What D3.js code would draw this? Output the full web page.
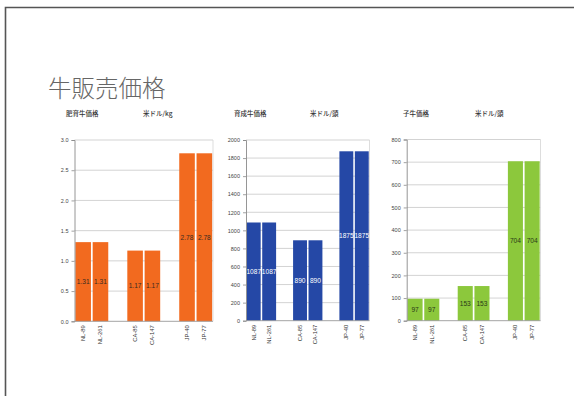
<!DOCTYPE html>
<html>
<head>
<meta charset="utf-8">
<script src="https://cdn.jsdelivr.net/npm/d3@7"></script>
<style>
  html, body { margin: 0; padding: 0; background: #fff; }
  svg { display: block; }
</style>
</head>
<body>
<svg id="chart" width="574" height="396"></svg>
<script>
// Cattle sale prices by farm (three panels)
const categories = ["NL-89", "NL-261", "CA-85", "CA-147", "JP-40", "JP-77"];
const fattenedPrice = [1.31, 1.31, 1.17, 1.17, 2.78, 2.78];     // 米ドル/kg
const growingPrice = [1087, 1087, 890, 890, 1875, 1875];        // 米ドル/頭
const calfPrice = [97, 97, 153, 153, 704, 704];                 // 米ドル/頭

const panelTitles = ["肥育牛価格", "育成牛価格", "子牛価格"];
const panelUnits = ["米ドル/kg", "米ドル/頭", "米ドル/頭"];
const fattenedTicks = [0, 0.5, 1.0, 1.5, 2.0, 2.5, 3.0];
const growingTicks = [0, 200, 400, 600, 800, 1000, 1200, 1400, 1600, 1800, 2000];
const calfTicks = [0, 100, 200, 300, 400, 500, 600, 700, 800];

const svg = d3.select("#chart");
const FONT = "'Liberation Sans', Arial, sans-serif";
const JFONT = "'Noto Sans CJK JP', sans-serif";

// page frame
svg.append("path")
  .attr("d", "M5.5,400 V7.5 H580")
  .attr("fill", "none").attr("stroke", "#555").attr("stroke-width", 1.6);

// page heading
svg.append("text")
  .attr("x", 48).attr("y", 97)
  .attr("font-family", JFONT).attr("font-size", 23.5).attr("font-weight", 300)
  .attr("fill", "#666")
  .text("牛販売価格");

const panels = [
  { values: fattenedPrice, ticks: fattenedTicks, fmt: d3.format(".1f"), label: d => d.toFixed(2),
    color: "#F26A1F", labelColor: "#3a2a20", x0: 74.5, x1: 213, yTop: 140, yBot: 321.3,
    titleX: 66, unitX: 143 },
  { values: growingPrice, ticks: growingTicks, fmt: d3.format("d"), label: d => String(d),
    color: "#2548A6", labelColor: "#ffffff", x0: 246, x1: 369.5, yTop: 140, yBot: 320.7,
    titleX: 234, unitX: 310 },
  { values: calfPrice, ticks: calfTicks, fmt: d3.format("d"), label: d => String(d),
    color: "#8CC83C", labelColor: "#2a3a18", x0: 406.7, x1: 540.5, yTop: 139.5, yBot: 320.7,
    titleX: 403, unitX: 475 }
];

// two farms per country, with an empty slot between countries
const slotOf = i => i + Math.floor(i / 2);

panels.forEach((p, pi) => {
  const g = svg.append("g");
  const x = d3.scaleBand()
    .domain(d3.range(categories.length + 2))
    .range([p.x0, p.x1])
    .paddingInner(0.1).paddingOuter(0.05);
  const y = d3.scaleLinear()
    .domain([0, d3.max(p.ticks)])
    .range([p.yBot, p.yTop]);

  // panel headings
  g.append("text").attr("x", p.titleX).attr("y", 115.5)
    .attr("font-family", JFONT).attr("font-size", 6.5).attr("font-weight", 500)
    .attr("fill", "#333").text(panelTitles[pi]);
  g.append("text").attr("x", p.unitX).attr("y", 115.5)
    .attr("font-family", JFONT).attr("font-size", 6.5).attr("font-weight", 500)
    .attr("fill", "#333").text(panelUnits[pi]);

  // gridlines
  g.selectAll("line.grid").data(p.ticks.filter(t => t > 0)).join("line")
    .attr("class", "grid")
    .attr("x1", p.x0).attr("x2", p.x1)
    .attr("y1", d => y(d)).attr("y2", d => y(d))
    .attr("stroke", "#c8c8c8").attr("stroke-width", 0.8);

  // plot border (right side)
  g.append("line")
    .attr("x1", p.x1).attr("x2", p.x1).attr("y1", p.yTop).attr("y2", p.yBot)
    .attr("stroke", "#d4d4d4").attr("stroke-width", 0.8);

  // bars
  g.selectAll("rect.bar").data(p.values).join("rect")
    .attr("class", "bar")
    .attr("x", (d, i) => x(slotOf(i)))
    .attr("width", x.bandwidth())
    .attr("y", d => y(d))
    .attr("height", d => y(0) - y(d))
    .attr("fill", p.color);

  // value labels
  g.selectAll("text.val").data(p.values).join("text")
    .attr("class", "val")
    .attr("x", (d, i) => x(slotOf(i)) + x.bandwidth() / 2)
    .attr("y", d => (y(d) + y(0)) / 2 + 2.5)
    .attr("text-anchor", "middle")
    .attr("font-family", FONT).attr("font-size", 6.6)
    .attr("fill", p.labelColor)
    .text(p.label);

  // y axis
  const yAxis = d3.axisLeft(y).tickValues(p.ticks).tickFormat(p.fmt).tickSize(3).tickPadding(3);
  const ya = g.append("g").attr("transform", `translate(${p.x0},0)`).call(yAxis);
  ya.select(".domain").attr("stroke", "#8a8a8a").attr("stroke-width", 0.9);
  ya.selectAll(".tick line").attr("stroke", "#8a8a8a").attr("stroke-width", 0.8);
  ya.selectAll(".tick text").attr("font-family", FONT).attr("font-size", 5.5).attr("fill", "#444");

  // baseline
  g.append("line")
    .attr("x1", p.x0).attr("x2", p.x1).attr("y1", y(0)).attr("y2", y(0))
    .attr("stroke", "#9a9a9a").attr("stroke-width", 0.9);

  // category labels, rotated
  g.selectAll("text.cat").data(categories).join("text")
    .attr("class", "cat")
    .attr("transform", (d, i) => `translate(${x(slotOf(i)) + x.bandwidth() / 2 + 2},${y(0) + 4}) rotate(-90)`)
    .attr("text-anchor", "end")
    .attr("font-family", FONT).attr("font-size", 5.8)
    .attr("fill", "#333")
    .text(d => d);
});
</script>
</body>
</html>
